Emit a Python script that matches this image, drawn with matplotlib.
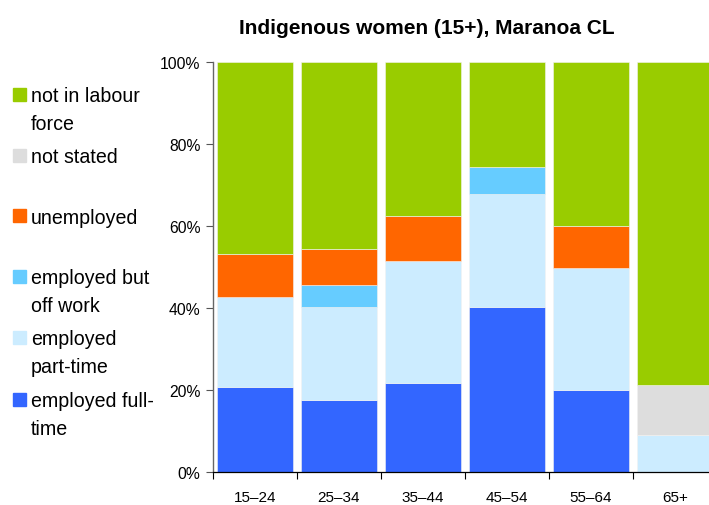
import matplotlib
import matplotlib.pyplot as plt
import numpy as np

matplotlib.use("Agg")

ages = ["15\u201324", "25\u201334", "35\u201344", "45\u201354", "55\u201364", "65+"]
full_time = [20.7, 17.6, 21.9, 40.4, 20.0, 0.0]
part_time = [22.1, 22.8, 29.6, 27.6, 29.9, 9.1]
off_work = [0.0, 5.2, 0.0, 6.5, 0.0, 0.0]
unemployed = [10.4, 8.8, 10.9, 0.0, 10.1, 0.0]
not_stated = [0.0, 0.0, 0.0, 0.0, 0.0, 12.2]
not_in_lf = [46.8, 45.6, 37.6, 25.5, 40.0, 78.7]

labels = ["employed full-\ntime", "employed\npart-time", "employed but\noff work",
          "unemployed", "not stated", "not in labour\nforce"]
colors = ["#3366FF", "#CCECFF", "#66CCFF", "#FF6600", "#DDDDDD", "#99CC00"]
series = [full_time, part_time, off_work, unemployed, not_stated, not_in_lf]

plt.rcParams["font.family"] = ["Liberation Sans", "DejaVu Sans"]

fig = plt.figure(figsize=(7.09, 5.06), dpi=100)
W, H = 709, 506
# axes: left 213, right 717, top 63.3, bottom 473.3 (pixels)
ax = fig.add_axes([213 / W, 1 - 473.3 / H, (717 - 213) / W, (473.3 - 63.3) / H])

x = np.arange(len(ages))
bottom = np.zeros(len(ages))
for vals, col in zip(series, colors):
    vals = np.array(vals)
    ax.bar(x, vals, bottom=bottom, width=0.905, color=col,
           edgecolor="#F2F2F2", linewidth=0.4)
    bottom += vals

ax.set_xlim(-0.5, len(ages) - 0.5)
ax.set_ylim(0, 100)
ax.set_yticks([0, 20, 40, 60, 80, 100])
ax.set_yticklabels([f"{v}%" for v in range(0, 101, 20)], fontsize=11.3)
ax.set_xticks(x)
ax.set_xticklabels(ages, fontsize=11)
ax.set_xticks(np.arange(-0.5, len(ages)), minor=True)
ax.tick_params(axis="x", which="major", length=0, pad=13)
ax.tick_params(axis="x", which="minor", length=5, width=0.8, direction="out")
ax.tick_params(axis="y", length=5, width=0.8, color="#555555", pad=4)
for s in ["top", "right"]:
    ax.spines[s].set_visible(False)
ax.spines["left"].set_color("#666666")
ax.spines["left"].set_linewidth(1.0)
ax.spines["bottom"].set_linewidth(0.9)

fig.text(426.5 / W, 1 - 28 / H, "Indigenous women (15+), Maranoa CL",
         ha="center", va="center", fontsize=15, fontweight="bold")

# legend drawn by hand, top entry first
legend_y = [400, 338, 277, 216.7, 156, 95]
for lab, col, yy in zip(labels, colors, legend_y):
    fig.patches.append(plt.Rectangle((13 / W, 1 - (yy + 6.5) / H), 13 / W, 13 / H,
                                     transform=fig.transFigure, color=col))
    for i, line in enumerate(lab.split("\n")):
        fig.text(31 / W, 1 - (yy + 7 + 28 * i) / H, line, ha="left",
                 va="baseline", fontsize=14.1)

fig.savefig("out.png", dpi=100)
